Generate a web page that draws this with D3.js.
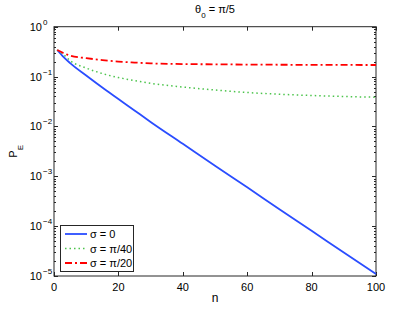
<!DOCTYPE html>
<html lang="en">
<head>
<meta charset="UTF-8">
<title>P_E vs n</title>
<script src="https://d3js.org/d3.v7.min.js"></script>
<style>
  body { margin: 0; background: #fff; }
  text { font-family: "Liberation Sans", Arial, sans-serif; fill: #000; }
</style>
</head>
<body>
<div id="chart"></div>
<script>
// values
const nVals = [1, 3, 5, 10, 15, 20, 25, 30, 40, 50, 60, 70, 80, 90, 100];
const pe0 = [0.341, 0.245, 0.186, 0.105, 0.0603, 0.0355, 0.0209, 0.0123, 0.00447, 0.00162, 6.0e-4, 2.19e-4, 8.1e-5, 2.95e-5, 1.1e-5];
const pe40 = [0.341, 0.275, 0.209, 0.148, 0.115, 0.0955, 0.0832, 0.0733, 0.0617, 0.0537, 0.0479, 0.0442, 0.0417, 0.0398, 0.0385];
const pe20 = [0.341, 0.295, 0.263, 0.234, 0.214, 0.200, 0.191, 0.184, 0.178, 0.176, 0.174, 0.1726, 0.1718, 0.171, 0.1706];
const seriesNames = ["σ = 0", "σ = π/40", "σ = π/20"];
const xTicks = [0, 20, 40, 60, 80, 100];
const yExps = [0, -1, -2, -3, -4, -5];

const W = 415, H = 312;
const plot = { left: 54, right: 376, top: 26.7, bottom: 276 };

const svg = d3.select("#chart").append("svg")
  .attr("width", W).attr("height", H);

const x = d3.scaleLinear().domain([0, 100]).range([plot.left, plot.right]);
const y = d3.scaleLog().domain([1e-5, 1]).range([plot.bottom, plot.top]);

const axisColor = "#262626";

// ticks (inside, both sides)
const tickG = svg.append("g").attr("stroke", axisColor).attr("stroke-width", 1);
xTicks.forEach(t => {
  const px = Math.round(x(t)) + 0.5;
  tickG.append("line").attr("x1", px).attr("x2", px).attr("y1", plot.bottom).attr("y2", plot.bottom - 4);
  tickG.append("line").attr("x1", px).attr("x2", px).attr("y1", plot.top).attr("y2", plot.top + 4);
});
y.ticks().forEach(v => {
  const py = Math.round(y(v)) + 0.5;
  const major = Math.abs(Math.log10(v) - Math.round(Math.log10(v))) < 1e-9;
  const len = major ? 4 : 2;
  tickG.append("line").attr("x1", plot.left).attr("x2", plot.left + len).attr("y1", py).attr("y2", py);
  tickG.append("line").attr("x1", plot.right).attr("x2", plot.right - len).attr("y1", py).attr("y2", py);
});

// box
svg.append("rect")
  .attr("x", plot.left).attr("y", plot.top)
  .attr("width", plot.right - plot.left).attr("height", plot.bottom - plot.top)
  .attr("fill", "none").attr("stroke", axisColor).attr("stroke-width", 1);

// x tick labels
svg.append("g").selectAll("text").data(xTicks).enter().append("text")
  .attr("x", d => x(d)).attr("y", plot.bottom + 15)
  .attr("text-anchor", "middle").attr("font-size", 11)
  .text(d => d);

// y tick labels 10^k
yExps.forEach(e => {
  svg.append("text")
    .attr("x", plot.left - 12).attr("y", y(Math.pow(10, e)) + 4)
    .attr("text-anchor", "end").attr("font-size", 11)
    .text("10");
  svg.append("text")
    .attr("x", plot.left - 11).attr("y", y(Math.pow(10, e)) - 2)
    .attr("text-anchor", "start").attr("font-size", 8)
    .text(e === 0 ? "0" : "\u2212" + (-e));
});

// axis labels
svg.append("text")
  .attr("x", (plot.left + plot.right) / 2).attr("y", 302)
  .attr("text-anchor", "middle").attr("font-size", 12)
  .text("n");

const yl = svg.append("text")
  .attr("transform", "translate(17," + ((plot.top + plot.bottom) / 2) + ") rotate(-90)")
  .attr("text-anchor", "middle").attr("font-size", 11);
yl.append("tspan").text("P");
yl.append("tspan").attr("font-size", 8).attr("dy", 6).text("E");

// title
const title = svg.append("text")
  .attr("x", (plot.left + plot.right) / 2).attr("y", 13)
  .attr("text-anchor", "middle").attr("font-size", 11);
title.append("tspan").text("θ");
title.append("tspan").attr("font-size", 8).attr("dy", 5).text("0");
title.append("tspan").attr("dy", -5).text(" = π/5");

// lines
const styles = [
  { color: "#2a4dff", dash: null, width: 1.8 },
  { color: "#4cc44c", dash: "1.5,3", width: 1.5 },
  { color: "#ff0000", dash: "7,3,2,3", width: 1.8 }
];
const allSeries = [pe0, pe40, pe20];

const line = d3.line()
  .x((d, i) => x(nVals[i]))
  .y(d => y(d))
  .curve(d3.curveMonotoneX);

svg.append("g").selectAll("path").data(allSeries).enter().append("path")
  .attr("d", d => line(d))
  .attr("fill", "none")
  .attr("stroke", (d, i) => styles[i].color)
  .attr("stroke-width", (d, i) => styles[i].width)
  .attr("stroke-dasharray", (d, i) => styles[i].dash);

// legend
const lg = svg.append("g");
lg.append("rect")
  .attr("x", 60.5).attr("y", 225.5).attr("width", 73).attr("height", 46)
  .attr("fill", "#fff").attr("stroke", axisColor).attr("stroke-width", 1);
const rowY = [234, 248.5, 263];
seriesNames.forEach((name, i) => {
  lg.append("line")
    .attr("x1", 65).attr("x2", 87).attr("y1", rowY[i]).attr("y2", rowY[i])
    .attr("stroke", styles[i].color)
    .attr("stroke-width", styles[i].width)
    .attr("stroke-dasharray", styles[i].dash);
  lg.append("text")
    .attr("x", 90).attr("y", rowY[i] + 4)
    .attr("font-size", 11)
    .text(name);
});
</script>
</body>
</html>
